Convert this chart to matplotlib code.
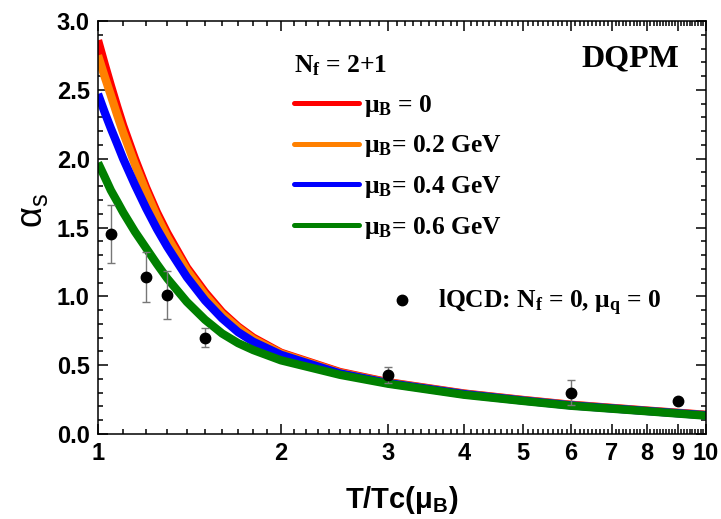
import matplotlib

matplotlib.use("Agg")
import matplotlib.pyplot as plt
from matplotlib.lines import Line2D
from matplotlib.ticker import FixedLocator, MultipleLocator, NullFormatter, FormatStrFormatter

plt.rcParams["mathtext.default"] = "regular"

# --- data ---
t_ratio = [1.0, 1.025, 1.05, 1.075, 1.1, 1.15, 1.2, 1.25, 1.3, 1.4, 1.5, 1.6, 1.7, 1.8,
           2.0, 2.5, 3.0, 4.0, 5.0, 6.0, 8.0, 10.0]
alpha_mu00 = [2.86, 2.69, 2.53, 2.38, 2.24, 2.00, 1.79, 1.61, 1.46, 1.21, 1.03, 0.885, 0.78, 0.70,
              0.59, 0.45, 0.376, 0.294, 0.247, 0.212, 0.170, 0.139]
alpha_mu02 = [2.75, 2.60, 2.46, 2.32, 2.19, 1.96, 1.76, 1.58, 1.43, 1.19, 1.01, 0.87, 0.77, 0.69,
              0.585, 0.445, 0.373, 0.292, 0.245, 0.210, 0.168, 0.137]
alpha_mu04 = [2.47, 2.34, 2.22, 2.11, 2.00, 1.81, 1.64, 1.49, 1.36, 1.14, 0.97, 0.84, 0.74, 0.67,
              0.575, 0.44, 0.370, 0.290, 0.243, 0.208, 0.167, 0.136]
alpha_mu06 = [1.97, 1.87, 1.77, 1.69, 1.61, 1.47, 1.35, 1.235, 1.13, 0.96, 0.83, 0.73, 0.66, 0.61,
              0.535, 0.43, 0.365, 0.285, 0.240, 0.205, 0.165, 0.133]

curve_labels = [r"$\mu_B$ = 0", r"$\mu_B$= 0.2 GeV", r"$\mu_B$= 0.4 GeV", r"$\mu_B$= 0.6 GeV"]
curve_colors = ["#ff0000", "#ff8000", "#0000ff", "#008000"]

lqcd_t = [1.05, 1.2, 1.3, 1.5, 3.0, 6.0, 9.0]
lqcd_alpha = [1.45, 1.14, 1.01, 0.70, 0.43, 0.30, 0.24]
lqcd_err = [0.21, 0.18, 0.175, 0.07, 0.06, 0.09, 0.02]

x_major = list(range(1, 11))
x_labels = [str(v) for v in x_major]

sans = "Liberation Sans"
serif = "Liberation Serif"

fig = plt.figure(figsize=(7.21, 5.19), dpi=100)
ax = fig.add_axes([0.1359, 0.1638, 0.8433, 0.7957])

for ys, c in zip([alpha_mu00, alpha_mu02, alpha_mu04, alpha_mu06], curve_colors):
    ax.plot(t_ratio, ys, color=c, lw=6, solid_capstyle="butt", zorder=2)

ax.errorbar(lqcd_t, lqcd_alpha, yerr=lqcd_err, fmt="o", color="black", ms=7.5,
            ecolor="#777777", elinewidth=1.0, capsize=3, capthick=1.0, zorder=4)

ax.set_xscale("log")
ax.set_xlim(1, 10)
ax.set_ylim(0, 3)

ax.xaxis.set_major_locator(FixedLocator(x_major))
ax.set_xticklabels(x_labels)
minor = [v / 10 for v in range(11, 100) if v % 10]
ax.xaxis.set_minor_locator(FixedLocator(minor))
ax.xaxis.set_minor_formatter(NullFormatter())
ax.yaxis.set_major_locator(MultipleLocator(0.5))
ax.yaxis.set_minor_locator(MultipleLocator(0.1))
ax.yaxis.set_major_formatter(FormatStrFormatter("%.1f"))

ax.tick_params(which="both", direction="in", top=True, right=True, width=1.1)
ax.tick_params(which="major", length=7, pad=6)
ax.tick_params(which="minor", length=3.5)
for lab in ax.get_xticklabels() + ax.get_yticklabels():
    lab.set_fontfamily(sans)
    lab.set_fontweight("bold")
    lab.set_fontsize(17)
for sp in ax.spines.values():
    sp.set_linewidth(1.1)

ax.set_xlabel(r"T/Tc($\mu_B$)", fontfamily=sans, fontweight="bold", fontsize=21)
ax.xaxis.set_label_coords(0.5, -0.122)
ax.set_ylabel(r"$\alpha_s$", fontfamily=sans, fontsize=26, va="center")
ax.yaxis.set_label_coords(-0.108, 0.54)

handles = [Line2D([], [], color=c, lw=3.6, solid_capstyle="round") for c in curve_colors]
leg_font = {"family": serif, "weight": "bold", "size": 18.4}
leg = ax.legend(handles, curve_labels, title=r"$N_f$ = 2+1", loc="upper left",
                bbox_to_anchor=(0.322, 0.922), frameon=False, prop=leg_font,
                title_fontproperties=leg_font, alignment="left", handlelength=2.55,
                handletextpad=0.2, labelspacing=0.58, borderpad=0, borderaxespad=0)
ax.add_artist(leg)

dot = Line2D([], [], marker="o", color="black", ms=7.5, linestyle="none")
ax.legend([dot], [r"lQCD: $N_f$ = 0, $\mu_q$ = 0"], loc="center left",
          bbox_to_anchor=(0.479, 0.317), frameon=False, prop=leg_font, numpoints=1,
          handlelength=1.0, handletextpad=0.9, borderpad=0, borderaxespad=0)

ax.text(0.875, 0.908, "DQPM", transform=ax.transAxes, ha="center", va="center",
        fontfamily=serif, fontweight="bold", fontsize=23)

fig.savefig("out.png", dpi=100)
